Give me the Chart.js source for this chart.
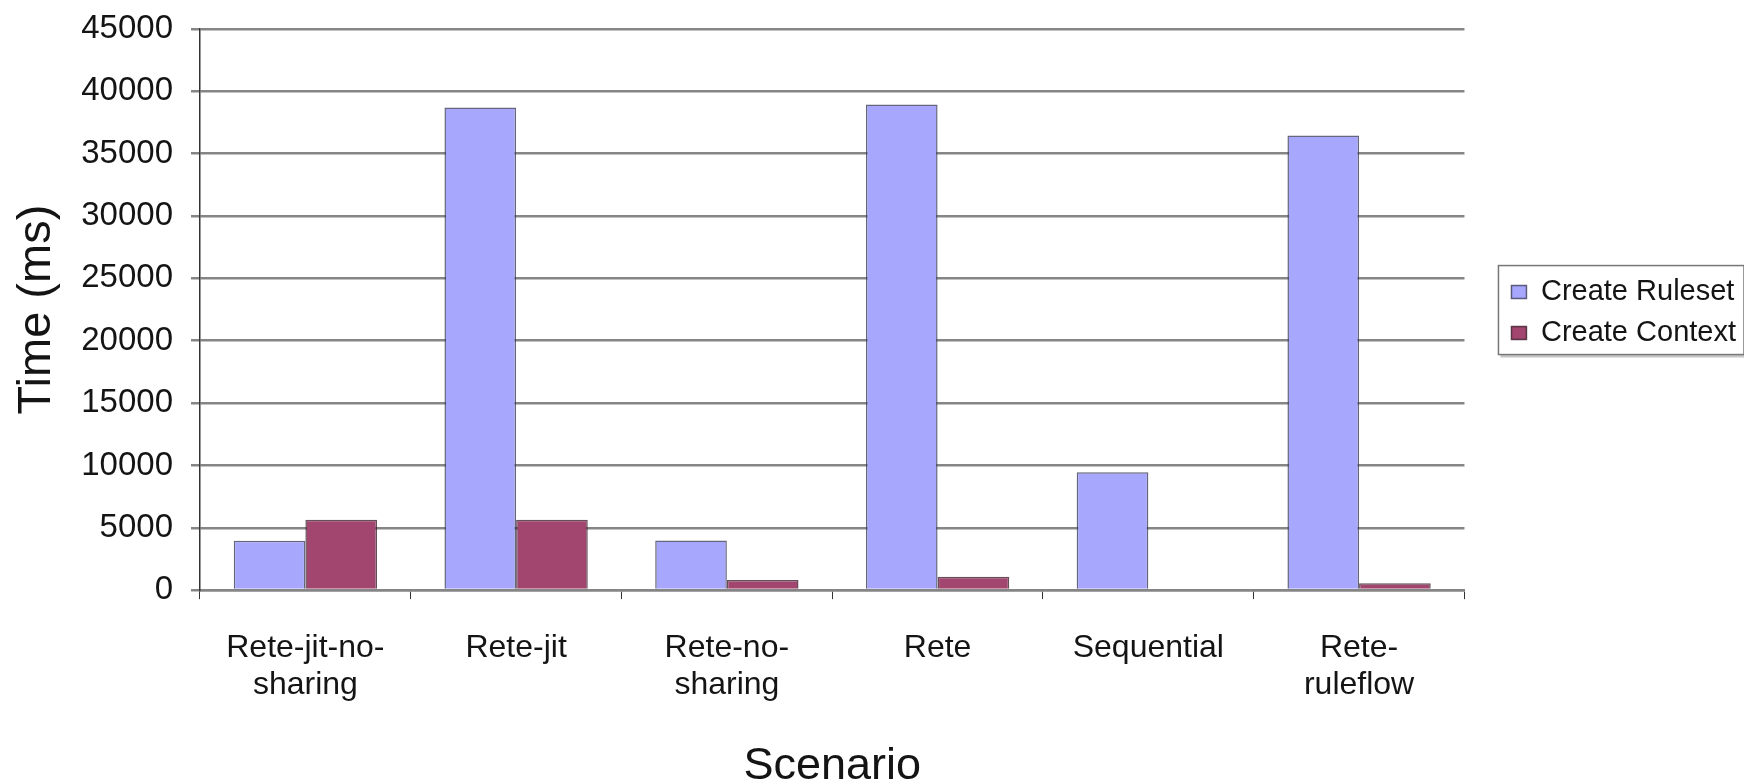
<!DOCTYPE html>
<html>
<head>
<meta charset="utf-8">
<script src="https://cdn.jsdelivr.net/npm/chart.js@4.4.1/dist/chart.umd.min.js"></script>
<style>
  html, body { margin: 0; padding: 0; background: #fff; }
  #wrap { width: 1744px; height: 784px; }
</style>
</head>
<body>
<div id="wrap"><canvas id="c" width="1744" height="784"></canvas></div>
<script>
// Scenarios on the x axis (two-line labels)
const scenarios = [
  ['Rete-jit-no-', 'sharing'],
  ['Rete-jit'],
  ['Rete-no-', 'sharing'],
  ['Rete'],
  ['Sequential'],
  ['Rete-', 'ruleflow']
];
// Timings in milliseconds
const createRuleset = [3950, 38700, 3970, 38950, 9450, 36450];
const createContext = [5650, 5650, 820, 1080, 0, 560];
// Value axis
const yMin = 0, yMax = 45000, yStep = 5000;

const FONT = "'Liberation Sans', Arial, sans-serif";
const INK = '#141414';
const LEGEND_PAD = 12;

// Keeps the legend beside the plot, vertically centred on it
const legendPlacement = {
  id: 'legendPlacement',
  afterLayout(chart) {
    const lg = chart.legend;
    const ca = chart.chartArea;
    if (!lg || !ca) return;
    const dx = (ca.right + 35) - lg.left;
    const dy = ((ca.top + ca.bottom) / 2 + 3) - (lg.top + lg.bottom) / 2;
    lg.left += dx; lg.right += dx;
    lg.top += dy; lg.bottom += dy;
  }
};

// Framed legend, in the style of a spreadsheet chart
const legendFrame = {
  id: 'legendFrame',
  afterDraw(chart) {
    const lg = chart.legend;
    if (!lg || !lg.legendHitBoxes || !lg.legendHitBoxes.length) return;
    const hb = lg.legendHitBoxes;
    let l = Infinity, t = Infinity, r = -Infinity, b = -Infinity;
    hb.forEach(h => { l = Math.min(l, h.left); t = Math.min(t, h.top); r = Math.max(r, h.left + h.width); b = Math.max(b, h.top + h.height); });
    const x0 = l - 13, y0 = t - 12, x1 = r + 8, y1 = b + 7;
    const ctx = chart.ctx;
    ctx.save();
    ctx.fillStyle = 'rgba(0,0,0,0.22)';
    ctx.fillRect(x0 + 2, y1, x1 - x0, 3);
    ctx.fillRect(x1, y0 + 2, 3, y1 - y0);
    ctx.strokeStyle = '#777';
    ctx.lineWidth = 1.5;
    ctx.strokeRect(x0, y0, x1 - x0, y1 - y0);
    ctx.restore();
  }
};

new Chart(document.getElementById('c'), {
  type: 'bar',
  data: {
    labels: scenarios,
    datasets: [
      {
        label: 'Create Ruleset',
        data: createRuleset,
        backgroundColor: '#a7a7fd',
        borderColor: 'rgba(50,50,80,0.75)',
        borderWidth: 1.5,
        borderSkipped: 'start'
      },
      {
        label: 'Create Context',
        data: createContext,
        backgroundColor: '#a2456f',
        borderColor: 'rgba(50,20,35,0.75)',
        borderWidth: 1.5,
        borderSkipped: 'start'
      }
    ]
  },
  options: {
    responsive: false,
    animation: false,
    devicePixelRatio: 1,
    categoryPercentage: 0.68,
    barPercentage: 1.0,
    layout: { padding: { left: 9, right: 33, top: 29, bottom: 0 } },
    plugins: {
      tooltip: { enabled: false },
      legend: {
        position: 'right',
        align: 'center',
        labels: {
          color: INK,
          font: { family: FONT, size: 29 },
          boxWidth: 15,
          boxHeight: 13,
          padding: LEGEND_PAD
        }
      }
    },
    scales: {
      x: {
        offset: true,
        grid: {
          offset: true,
          drawOnChartArea: false,
          drawTicks: true,
          tickLength: 9,
          color: '#333'
        },
        border: { display: true, color: '#858585', width: 2.5 },
        ticks: {
          color: INK,
          font: { family: FONT, size: 32, lineHeight: 1.17 },
          padding: 30,
          maxRotation: 0,
          autoSkip: false
        },
        title: {
          display: true,
          text: 'Scenario',
          color: INK,
          font: { family: FONT, size: 45 },
          padding: { top: 6, bottom: -10 }
        }
      },
      y: {
        min: yMin,
        max: yMax,
        afterFit(scale) {
          scale.width = 191;
          scale.paddingTop = 0;
          scale.paddingBottom = 0;
        },
        ticks: {
          stepSize: yStep,
          color: INK,
          font: { family: FONT, size: 33 },
          padding: 18,
          callback: v => String(v)
        },
        grid: {
          color: '#858585',
          lineWidth: 2.5,
          drawTicks: true,
          tickLength: 9
        },
        border: { display: true, color: '#333', width: 1.5 },
        title: {
          display: true,
          text: 'Time (ms)',
          color: INK,
          font: { family: FONT, size: 47 },
          padding: { top: 0, bottom: 16 }
        }
      }
    }
  },
  plugins: [legendPlacement, legendFrame]
});
</script>
</body>
</html>
